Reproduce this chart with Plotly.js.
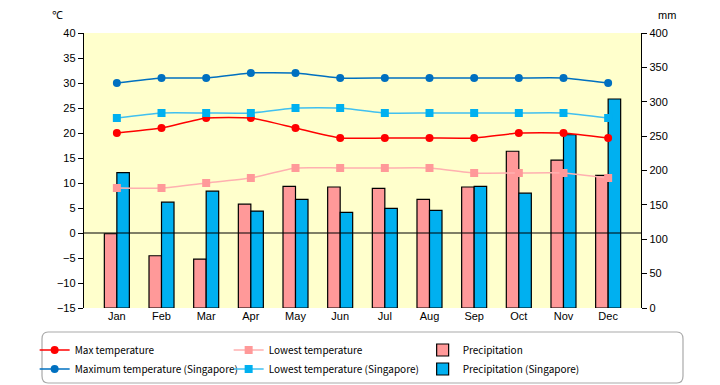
<!DOCTYPE html>
<html><head><meta charset="utf-8">
<script src="https://cdn.plot.ly/plotly-3.0.1.min.js"></script>
<style>html,body{margin:0;padding:0;background:#fff}#chart{width:720px;height:385px}</style>
</head><body><div id="chart"></div>
<script>
const months = ["Jan","Feb","Mar","Apr","May","Jun","Jul","Aug","Sep","Oct","Nov","Dec"];
const maxTemp = [20,21,23,23,21,19,19,19,19,20,20,19];
const lowTemp = [9,9,10,11,13,13,13,13,12,12,12,11];
const precip = [108,76,71,151,177,176,174,158,176,228,215,193];
const maxTempSG = [30,31,31,32,32,31,31,31,31,31,31,30];
const lowTempSG = [23,24,24,24,25,25,24,24,24,24,24,23];
const precipSG = [197,154,170,141,158,139,145,142,177,167,252,304];
const tempTicks = [-15,-10,-5,0,5,10,15,20,25,30,35,40];
const mmTicks = [0,50,100,150,200,250,300,350,400];

const F = "Liberation Sans, Arial, sans-serif";
const FN = "Noto Sans CJK JP, Liberation Sans, sans-serif";
const mk = (name, y, col, lcol, sym) => ({
  type:"scatter", mode:"lines+markers", name, x:months, y, yaxis:"y2",
  line:{color:lcol, width:1.5, shape:"spline", smoothing:0.5},
  marker:{color:col, size:8, symbol:sym}
});
const traces = [
  mk("Max temperature", maxTemp, "#FF0000", "#FF0000", "circle"),
  mk("Lowest temperature", lowTemp, "#FF9999", "#FFB0B0", "square"),
  {type:"bar", name:"Precipitation", x:months, y:precip, yaxis:"y",
   marker:{color:"#FF9999", line:{color:"#000", width:1.2}}},
  mk("Maximum temperature (Singapore)", maxTempSG, "#0070C0", "#0070C0", "circle"),
  mk("Lowest temperature (Singapore)", lowTempSG, "#00B0F0", "#40C0F0", "square"),
  {type:"bar", name:"Precipitation (Singapore)", x:months, y:precipSG, yaxis:"y",
   marker:{color:"#00B0F0", line:{color:"#000", width:1.2}}}
];
const layout = {
  width:720, height:385,
  margin:{l:84, r:79, t:33, b:77, autoexpand:false},
  paper_bgcolor:"#fff", plot_bgcolor:"#FFFFCC",
  font:{family:F, size:11, color:"#000"},
  barmode:"group", bargap:0.44, bargroupgap:0,
  showlegend:true,
  xaxis:{type:"category", categoryarray:months, showline:false, ticks:"", showgrid:false,
         tickfont:{size:11}, zeroline:false},
  yaxis:{side:"right", range:[0,400], tickvals:mmTicks, ticks:"outside", ticklen:5,
         tickcolor:"#000", showline:true, linecolor:"#000", linewidth:1.2, showgrid:false,
         zeroline:false, tickfont:{size:11}},
  yaxis2:{side:"left", overlaying:"y", range:[-15,40], tickvals:tempTicks, ticks:"outside",
          ticklen:5, tickcolor:"#000", showline:true, linecolor:"#000", linewidth:1.2,
          showgrid:false, zeroline:false, tickfont:{size:11}},
  legend:{orientation:"h", x:-0.0886, xanchor:"left", y:-0.1, yanchor:"top",
          entrywidth:149, entrywidthmode:"pixels", font:{size:10, family:FN}, tracegroupgap:0,
          bgcolor:"rgba(0,0,0,0)", borderwidth:0, traceorder:"normal"},
  shapes:[
    {type:"line", xref:"paper", x0:0, x1:1, yref:"y2", y0:0, y1:0, layer:"above",
     line:{color:"#000", width:1.2}},
    {type:"path", xref:"paper", yref:"paper", layer:"below",
     path:"M -0.0646,-0.0873 L 1.0646,-0.0873 Q 1.0754,-0.0873 1.0754,-0.1127 L 1.0754,-0.2473 Q 1.0754,-0.2727 1.0646,-0.2727 L -0.0646,-0.2727 Q -0.0754,-0.2727 -0.0754,-0.2473 L -0.0754,-0.1127 Q -0.0754,-0.0873 -0.0646,-0.0873 Z",
     line:{color:"#aaaaaa", width:1.2}}
  ],
  annotations:[
    {text:"℃", xref:"paper", yref:"paper", x:-0.047, y:1.065, xanchor:"center", yanchor:"middle",
     showarrow:false, font:{size:11}},
    {text:"mm", xref:"paper", yref:"paper", x:1.047, y:1.065, xanchor:"center", yanchor:"middle",
     showarrow:false, font:{size:11}}
  ]
};
Plotly.newPlot("chart", traces, layout, {displayModeBar:false, staticPlot:true});
</script></body></html>
